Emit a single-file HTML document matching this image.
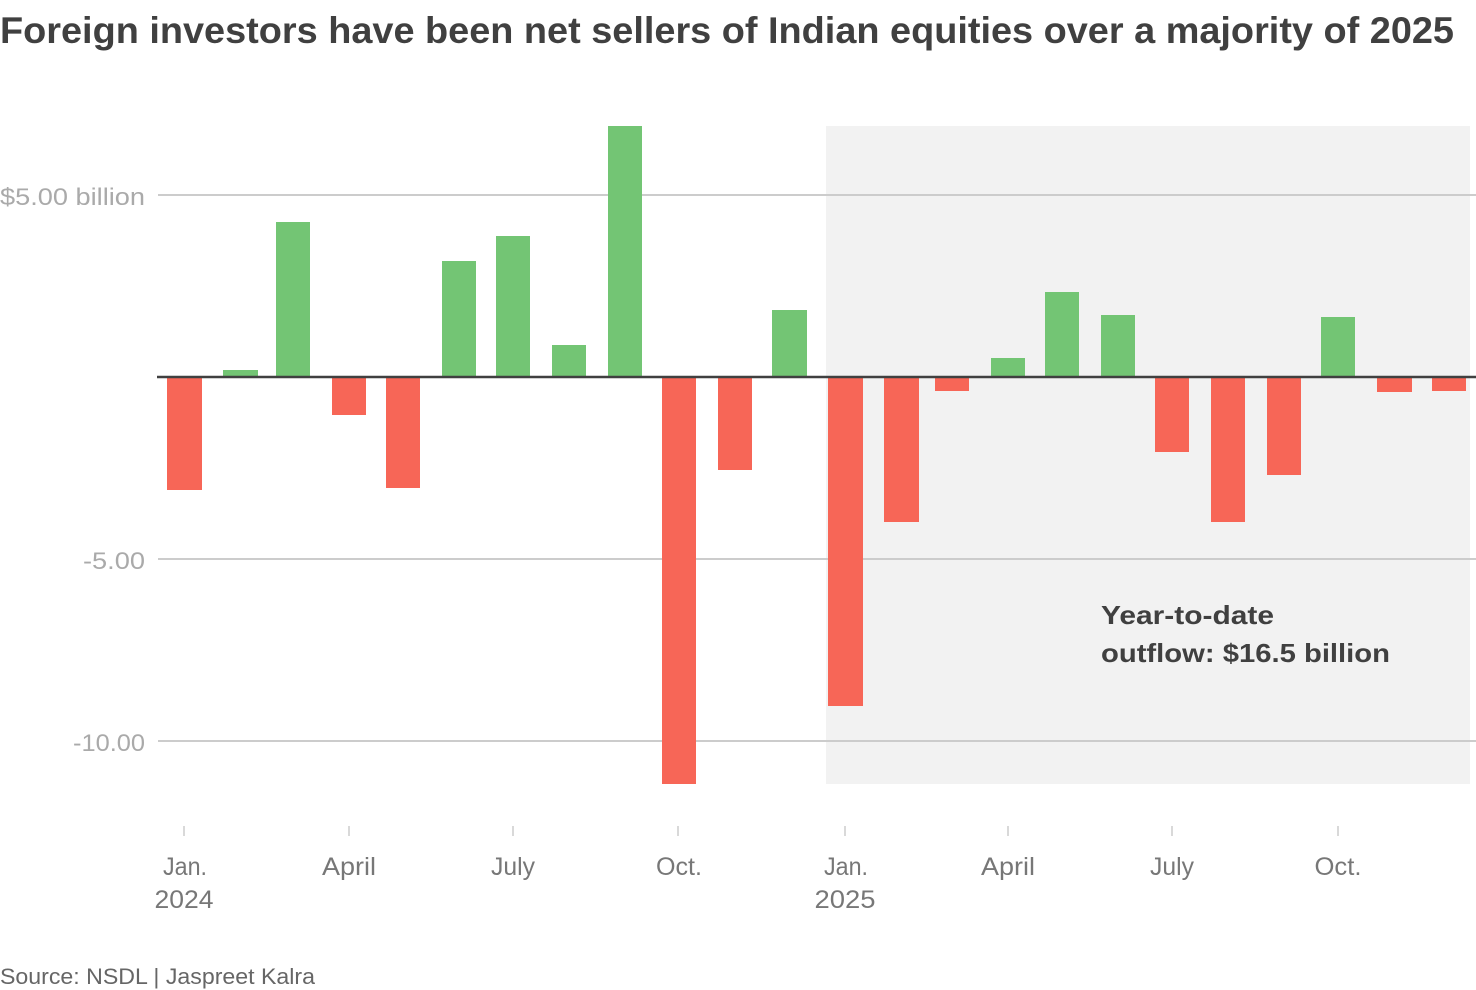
<!DOCTYPE html>
<html>
<head>
<meta charset="utf-8">
<style>
  html, body { margin: 0; padding: 0; background: #ffffff; }
  svg { display: block; }
  text { font-family: "Liberation Sans", sans-serif; }
</style>
</head>
<body>
<svg width="1476" height="990" viewBox="0 0 1476 990" xmlns="http://www.w3.org/2000/svg">
  <rect x="0" y="0" width="1476" height="990" fill="#ffffff"/>

  <!-- Title -->
  <text x="0" y="43" font-size="37" font-weight="bold" fill="#404040" textLength="1454" lengthAdjust="spacingAndGlyphs">Foreign investors have been net sellers of Indian equities over a majority of 2025</text>

  <!-- Shaded 2025 region -->
  <rect x="826" y="126" width="644" height="658" fill="#f2f2f2"/>

  <!-- Gridlines -->
  <line x1="158" y1="195" x2="1476" y2="195" stroke="#cccccc" stroke-width="2"/>
  <line x1="158" y1="559" x2="1476" y2="559" stroke="#cccccc" stroke-width="2"/>
  <line x1="158" y1="741" x2="1476" y2="741" stroke="#cccccc" stroke-width="2"/>

  <!-- Y labels -->
  <text x="145" y="205" font-size="24" fill="#aaaaaa" text-anchor="end" textLength="145" lengthAdjust="spacingAndGlyphs">$5.00 billion</text>
  <text x="145" y="569" font-size="24" fill="#aaaaaa" text-anchor="end" textLength="62" lengthAdjust="spacingAndGlyphs">-5.00</text>
  <text x="145" y="751" font-size="24" fill="#aaaaaa" text-anchor="end" textLength="72" lengthAdjust="spacingAndGlyphs">-10.00</text>

  <!-- Bars -->
  <g fill="#73c574">
    <rect x="223" y="370" width="35" height="7"/>
    <rect x="276" y="222" width="34" height="155"/>
    <rect x="442" y="261" width="34" height="116"/>
    <rect x="496" y="236" width="34" height="141"/>
    <rect x="552" y="345" width="34" height="32"/>
    <rect x="608" y="126" width="34" height="251"/>
    <rect x="772" y="310" width="35" height="67"/>
    <rect x="991" y="358" width="34" height="19"/>
    <rect x="1045" y="292" width="34" height="85"/>
    <rect x="1101" y="315" width="34" height="62"/>
    <rect x="1321" y="317" width="34" height="60"/>
  </g>
  <g fill="#f76657">
    <rect x="167" y="377" width="35" height="113"/>
    <rect x="332" y="377" width="34" height="38"/>
    <rect x="386" y="377" width="34" height="111"/>
    <rect x="662" y="377" width="34" height="407"/>
    <rect x="718" y="377" width="34" height="93"/>
    <rect x="828" y="377" width="35" height="329"/>
    <rect x="884" y="377" width="35" height="145"/>
    <rect x="935" y="377" width="34" height="14"/>
    <rect x="1155" y="377" width="34" height="75"/>
    <rect x="1211" y="377" width="34" height="145"/>
    <rect x="1267" y="377" width="34" height="98"/>
    <rect x="1377" y="377" width="35" height="15"/>
    <rect x="1432" y="377" width="34" height="14"/>
  </g>

  <!-- Zero line -->
  <line x1="157" y1="377" x2="1476" y2="377" stroke="#404040" stroke-width="2.5"/>

  <!-- Annotation -->
  <text x="1101" y="624" font-size="26" font-weight="bold" fill="#404040" textLength="173" lengthAdjust="spacingAndGlyphs">Year-to-date</text>
  <text x="1101" y="662" font-size="26" font-weight="bold" fill="#404040" textLength="289" lengthAdjust="spacingAndGlyphs">outflow: $16.5 billion</text>

  <!-- X ticks -->
  <g stroke="#cccccc" stroke-width="1.5">
    <line x1="184" y1="826" x2="184" y2="836"/>
    <line x1="349" y1="826" x2="349" y2="836"/>
    <line x1="513" y1="826" x2="513" y2="836"/>
    <line x1="678" y1="826" x2="678" y2="836"/>
    <line x1="845" y1="826" x2="845" y2="836"/>
    <line x1="1008" y1="826" x2="1008" y2="836"/>
    <line x1="1172" y1="826" x2="1172" y2="836"/>
    <line x1="1338" y1="826" x2="1338" y2="836"/>
  </g>

  <!-- X labels -->
  <g font-size="25" fill="#777777" text-anchor="middle">
    <text x="185" y="875" textLength="44" lengthAdjust="spacingAndGlyphs">Jan.</text>
    <text x="184" y="908" textLength="59" lengthAdjust="spacingAndGlyphs">2024</text>
    <text x="349" y="875" textLength="54" lengthAdjust="spacingAndGlyphs">April</text>
    <text x="513" y="875" textLength="44" lengthAdjust="spacingAndGlyphs">July</text>
    <text x="679" y="875" textLength="46" lengthAdjust="spacingAndGlyphs">Oct.</text>
    <text x="846" y="875" textLength="44" lengthAdjust="spacingAndGlyphs">Jan.</text>
    <text x="845" y="908" textLength="61" lengthAdjust="spacingAndGlyphs">2025</text>
    <text x="1008" y="875" textLength="54" lengthAdjust="spacingAndGlyphs">April</text>
    <text x="1172" y="875" textLength="44" lengthAdjust="spacingAndGlyphs">July</text>
    <text x="1338" y="875" textLength="47" lengthAdjust="spacingAndGlyphs">Oct.</text>
  </g>

  <!-- Source -->
  <text x="0" y="984" font-size="22" fill="#666666" textLength="315" lengthAdjust="spacingAndGlyphs">Source: NSDL | Jaspreet Kalra</text>
</svg>
</body>
</html>
